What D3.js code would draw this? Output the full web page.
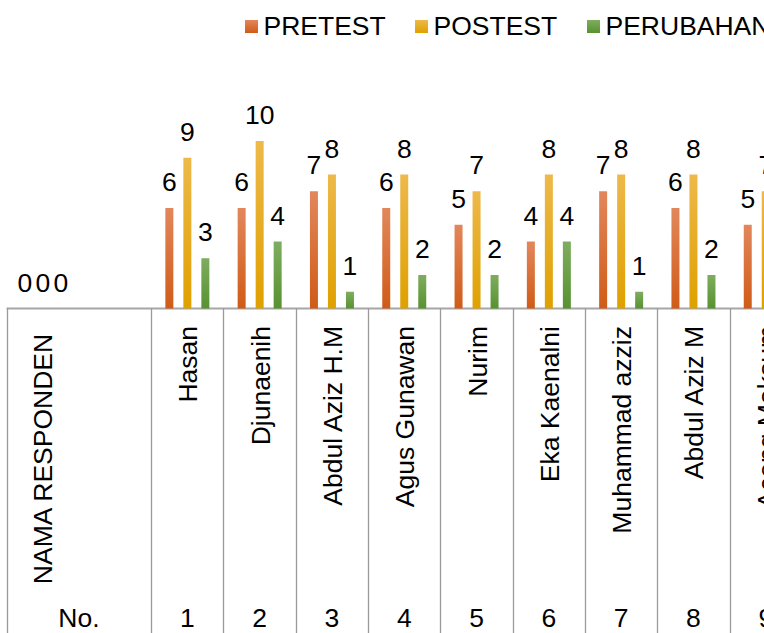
<!DOCTYPE html>
<html>
<head>
<meta charset="utf-8">
<script src="https://cdn.jsdelivr.net/npm/d3@7/dist/d3.min.js"></script>
<style>
  html, body { margin: 0; padding: 0; background: #fff; overflow: hidden; }
  svg { display: block; font-family: "Liberation Sans", Arial, sans-serif; }
</style>
</head>
<body>
<svg id="chart" width="764" height="633"></svg>
<script>
// ---- data ----
const names = ["Hasan", "Djunaenih", "Abdul Aziz H.M", "Agus Gunawan", "Nurim",
               "Eka Kaenalni", "Muhammad azziz", "Abdul Aziz M", "Aceng Maksum"];
const numbers = ["1", "2", "3", "4", "5", "6", "7", "8", "9"];
const pretest = [6, 6, 7, 6, 5, 4, 7, 6, 5];
const postest = [9, 10, 8, 8, 7, 8, 8, 8, 7];
const perubahan = [3, 4, 1, 2, 2, 4, 1, 2, 2];
const seriesNames = ["PRETEST", "POSTEST", "PERUBAHAN"];
const headerName = "NAMA RESPONDEN";
const headerNo = "No.";

// ---- layout ----
const svg = d3.select("#chart");
const W = 764, H = 633;
const baseY = 308.5;
const FS = 26.5;
const colors = [
  ["#e2875c", "#d05b17"],
  ["#edb94a", "#e0a000"],
  ["#7fad5f", "#589230"]
];

const defs = svg.append("defs");
colors.forEach((c, i) => {
  const g = defs.append("linearGradient").attr("id", "g" + i)
    .attr("x1", 0).attr("y1", 0).attr("x2", 0).attr("y2", 1);
  g.append("stop").attr("offset", "0%").attr("stop-color", c[0]);
  g.append("stop").attr("offset", "100%").attr("stop-color", c[1]);
});

// categories: two bands for header column (first one holds empty zero-valued group)
const domain = ["__blank", "__hdr"].concat(names);
const bandW = 72.3;
const x0 = d3.scaleBand().domain(domain).range([6.6, 6.6 + bandW * domain.length]).padding(0);
const x1 = d3.scaleBand().domain(seriesNames).range([-22, 22]).paddingInner(0.556).paddingOuter(0);
const y = d3.scaleLinear().domain([0, 10]).range([baseY, 141]);

const rows = [{ cat: "__blank", vals: [0, 0, 0] }].concat(
  names.map((n, i) => ({ cat: n, vals: [pretest[i], postest[i], perubahan[i]] }))
);

const cx = c => x0(c) + x0.bandwidth() / 2;

// table lines
const lineCol = "#a6a6a6";
svg.append("line").attr("x1", 6.6).attr("x2", W).attr("y1", baseY).attr("y2", baseY)
  .attr("stroke", lineCol).attr("stroke-width", 2);
const vlines = [x0("__blank")].concat(names.map(n => x0(n)));
svg.selectAll("line.v").data(vlines).enter().append("line").attr("class", "v")
  .attr("x1", d => Math.round(d) + 0.5).attr("x2", d => Math.round(d) + 0.5)
  .attr("y1", baseY).attr("y2", H)
  .attr("stroke", "#9a9a9a").attr("stroke-width", 1.3);

// bars
const groups = svg.selectAll("g.grp").data(rows).enter().append("g")
  .attr("class", "grp").attr("transform", d => `translate(${cx(d.cat)},0)`);
groups.selectAll("rect").data(d => d.vals.map((v, i) => ({ v, i }))).enter().append("rect")
  .attr("x", d => x1(seriesNames[d.i]))
  .attr("width", x1.bandwidth())
  .attr("y", d => y(d.v))
  .attr("height", d => baseY - y(d.v))
  .attr("fill", d => `url(#g${d.i})`);
groups.selectAll("text").data(d => d.vals.map((v, i) => ({ v, i }))).enter().append("text")
  .attr("x", d => x1(seriesNames[d.i]) + x1.bandwidth() / 2)
  .attr("y", d => y(d.v) - 17)
  .attr("text-anchor", "middle")
  .attr("font-size", FS)
  .attr("fill", "#000")
  .text(d => d.v);

// category names (rotated)
svg.selectAll("text.name").data(names).enter().append("text").attr("class", "name")
  .attr("transform", n => `translate(${cx(n) + 10},326) rotate(-90)`)
  .attr("text-anchor", "end").attr("font-size", FS).attr("fill", "#000")
  .text(n => n);

const hdrCenter = (x0("__blank") + x0("__hdr") + x0.bandwidth()) / 2;
svg.append("text")
  .attr("transform", `translate(52,459) rotate(-90)`)
  .attr("text-anchor", "middle").attr("font-size", FS).attr("fill", "#000")
  .text(headerName);

// numbers row
svg.append("text").attr("x", hdrCenter).attr("y", 627).attr("text-anchor", "middle")
  .attr("font-size", FS).attr("fill", "#000").text(headerNo);
svg.selectAll("text.num").data(names).enter().append("text").attr("class", "num")
  .attr("x", n => cx(n)).attr("y", 627).attr("text-anchor", "middle")
  .attr("font-size", FS).attr("fill", "#000")
  .text((n, i) => numbers[i]);

// legend
const legX = [245, 415, 587];
const leg = svg.selectAll("g.leg").data(seriesNames).enter().append("g").attr("class", "leg")
  .attr("transform", (d, i) => `translate(${legX[i]},0)`);
leg.append("rect").attr("x", 0).attr("y", 20).attr("width", 13).attr("height", 13)
  .attr("fill", (d, i) => `url(#g${i})`);
leg.append("text").attr("x", 18.5).attr("y", 35).attr("font-size", FS).attr("fill", "#000")
  .text(d => d);
</script>
</body>
</html>
